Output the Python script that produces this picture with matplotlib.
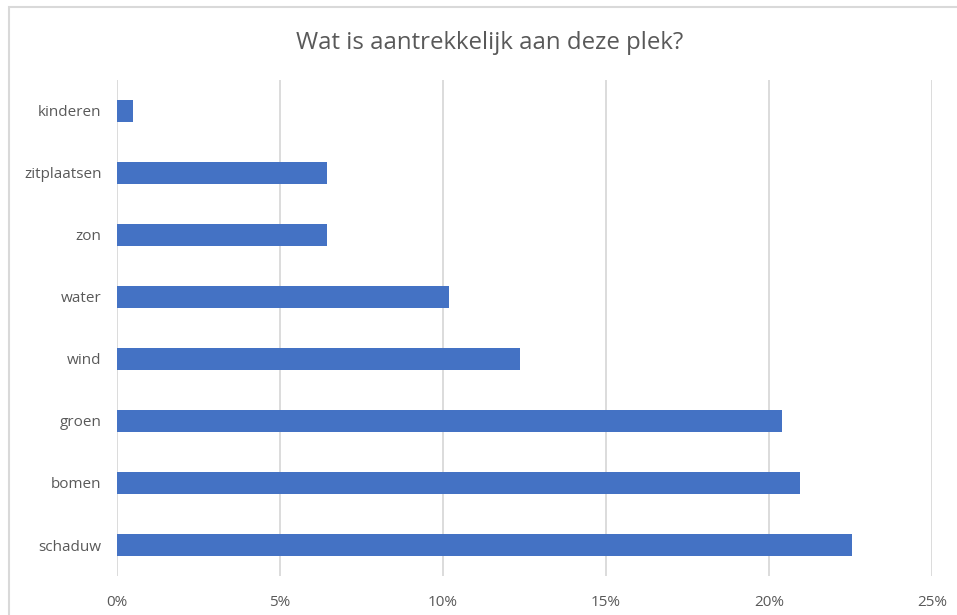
import matplotlib.pyplot as plt
import matplotlib.patches as patches
from matplotlib.ticker import PercentFormatter, MultipleLocator

# data (in percent)
categories = ['schaduw', 'bomen', 'groen', 'wind', 'water', 'zon', 'zitplaatsen', 'kinderen']
shares = [22.55, 20.95, 20.4, 12.35, 10.2, 6.44, 6.44, 0.5]

BAR_COLOR = '#4472C4'
GRID_COLOR = '#D9D9D9'
TEXT_COLOR = '#595959'

plt.rcParams['font.family'] = ['Open Sans', 'DejaVu Sans']

fig = plt.figure(figsize=(9.57, 6.15), dpi=100)
ax = fig.add_axes([0.122, 0.0634, 0.852, 0.8066])

# chart border (cut off on the right and bottom like the screenshot)
border = patches.Rectangle((8.5 / 957, -0.1), 1.2, 1 - 6.5 / 615 + 0.1,
                           transform=fig.transFigure, fill=False,
                           edgecolor=GRID_COLOR, linewidth=1.5, clip_on=False)
fig.patches.append(border)

y = range(len(categories))
ax.barh(y, shares, height=0.35, color=BAR_COLOR, zorder=2)

ax.set_xlim(0, 25)
ax.set_ylim(-0.5, len(categories) - 0.5)
ax.xaxis.set_major_locator(MultipleLocator(5))
ax.xaxis.set_major_formatter(PercentFormatter(decimals=0))
ax.set_yticks(list(y))
ax.set_yticklabels(categories)

ax.grid(axis='x', color=GRID_COLOR, linewidth=1.3, zorder=0)
ax.set_axisbelow(True)
for side in ['top', 'right', 'bottom', 'left']:
    ax.spines[side].set_visible(False)

ax.tick_params(axis='both', length=0, labelsize=11, labelcolor=TEXT_COLOR)
ax.tick_params(axis='y', pad=11)
ax.tick_params(axis='x', pad=14)

fig.text(0.512, 0.93, 'Wat is aantrekkelijk aan deze plek?', ha='center', va='center',
         fontsize=17.3, color=TEXT_COLOR)

fig.savefig('out.png', dpi=100)
